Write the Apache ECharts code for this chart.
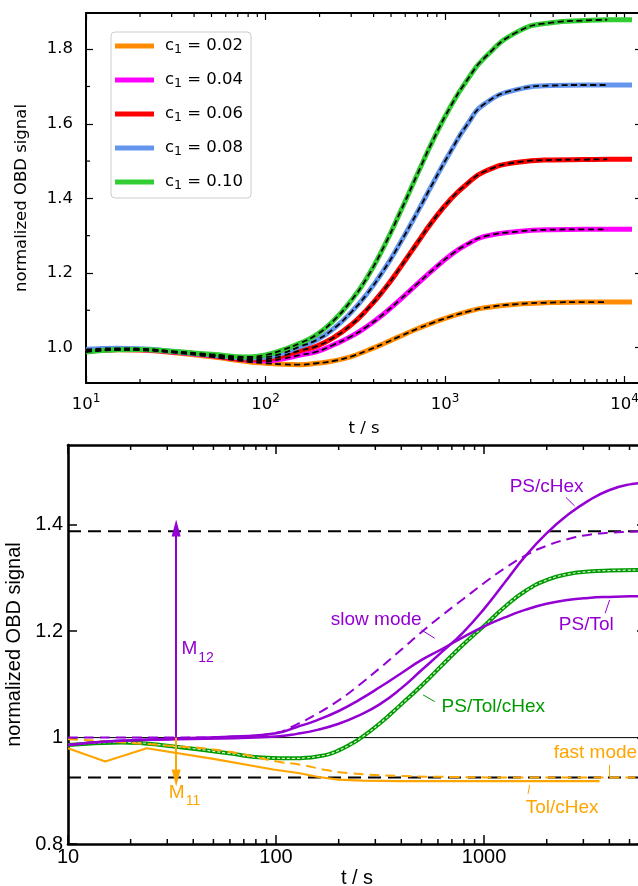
<!DOCTYPE html>
<html>
<head>
<meta charset="utf-8">
<script src="https://cdn.jsdelivr.net/npm/echarts@6/dist/echarts.min.js"></script>
<style>
  html, body { margin: 0; padding: 0; background: #ffffff; }
  #chart { width: 638px; height: 886px; }
</style>
</head>
<body>
<div id="chart"></div>
<script>
// ---------- upper panel: OBD signal for several concentrations c1 ----------
const upperTime = [10, 15, 20, 30, 50, 80, 100, 125, 156, 193, 238, 300, 366, 460, 560, 706, 859, 1081, 1318, 1660, 2543, 3897, 5980, 8000, 11000];
const concLabels = ['0.02', '0.04', '0.06', '0.08', '0.10'];
const sigC002 = [0.990, 0.994, 0.993, 0.987, 0.975, 0.962, 0.958, 0.955, 0.954, 0.958, 0.964, 0.976, 0.9915, 1.0115, 1.030, 1.051, 1.067, 1.0835, 1.0955, 1.1065, 1.1167, 1.1205, 1.122, 1.122, 1.122];
const sigC004 = [0.990, 0.995, 0.994, 0.988, 0.978, 0.966, 0.964, 0.970, 0.980, 0.989, 1.007, 1.030, 1.056, 1.092, 1.128, 1.172, 1.209, 1.249, 1.276, 1.298, 1.311, 1.316, 1.317, 1.317, 1.317];
const sigC006 = [0.990, 0.995, 0.995, 0.989, 0.979, 0.968, 0.969, 0.978, 0.992, 1.004, 1.026, 1.061, 1.101, 1.157, 1.213, 1.283, 1.341, 1.399, 1.438, 1.472, 1.497, 1.503, 1.504, 1.505, 1.505];
const sigC008 = [0.995, 0.998, 0.997, 0.990, 0.980, 0.972, 0.974, 0.985, 1.003, 1.0205, 1.0496, 1.0946, 1.1428, 1.2108, 1.2788, 1.3658, 1.4423, 1.5283, 1.5954, 1.6534, 1.6923, 1.7025, 1.704, 1.704, 1.704];
const sigC010 = [0.988, 0.994, 0.995, 0.990, 0.982, 0.975, 0.980, 0.994, 1.012, 1.035, 1.071, 1.126, 1.186, 1.274, 1.361, 1.468, 1.557, 1.649, 1.715, 1.777, 1.847, 1.871, 1.877, 1.879, 1.879];
const fitLastTime = 8000;            // model curves stop here
const upperYTicks = [1.0, 1.2, 1.4, 1.6, 1.8];
const upperYMinor = [1.1, 1.3, 1.5, 1.7];

// ---------- lower panel: mixtures and their two modes ----------
const psTime = [10, 16, 33, 63, 100, 126, 158, 200, 251, 316, 398, 501, 631, 794, 1000, 1259, 1585, 1995, 2512, 3162, 3981, 5012, 6000];
const psCHexV = [0.986, 0.993, 0.997, 0.999, 1.002, 1.007, 1.0145, 1.026, 1.042, 1.063, 1.092, 1.127, 1.162, 1.198, 1.242, 1.292, 1.342, 1.384, 1.418, 1.445, 1.465, 1.476, 1.479];
const psTolV = [0.986, 0.993, 0.998, 1.002, 1.008, 1.020, 1.033, 1.050, 1.071, 1.095, 1.1205, 1.146, 1.167, 1.189, 1.209, 1.226, 1.2405, 1.2515, 1.2585, 1.2625, 1.2645, 1.2655, 1.266];
const slowT = [10, 33, 63, 100, 126, 158, 200, 251, 316, 398, 501, 631, 794, 1000, 1259, 1585, 1995, 2512, 3162, 3981, 5012, 6000];
const slowV = [1.000, 1.000, 1.002, 1.009, 1.025, 1.045, 1.070, 1.099, 1.131, 1.1645, 1.1985, 1.2305, 1.2605, 1.2905, 1.3185, 1.3425, 1.3605, 1.373, 1.381, 1.385, 1.387, 1.388];
const mixT = [10, 18, 33, 58, 90, 121, 140, 160, 180, 200, 225, 257, 316, 398, 501, 631, 794, 1000, 1259, 1585, 1995, 2512, 3162, 3981, 6000];
const mixV = [0.986, 0.991, 0.983, 0.971, 0.962, 0.961, 0.962, 0.965, 0.969, 0.976, 0.986, 1.000, 1.027, 1.062, 1.098, 1.137, 1.175, 1.210, 1.246, 1.276, 1.296, 1.307, 1.312, 1.314, 1.315];
const tolCHexT = [10, 15.1, 23.9, 50, 97, 130, 160, 200, 260, 394, 1000, 3590];
const tolCHexV = [0.980, 0.955, 0.980, 0.960, 0.940, 0.933, 0.926, 0.921, 0.919, 0.918, 0.918, 0.918];
const fastT = [10, 33, 58, 101, 131, 175, 227, 394, 700, 1500, 6000];
const fastV = [0.997, 0.984, 0.974, 0.955, 0.949, 0.939, 0.933, 0.928, 0.926, 0.925, 0.925];
const baseLevel = 1.0;
const slowLimit = 1.388;
const fastLimit = 0.925;
const arrowTime = 33.1;
const lowerYTicks = [0.8, 1.0, 1.2, 1.4];

const pairs = (ts, vs) => ts.map((t, i) => [t, vs[i]]);

const FU = 'DejaVu Sans';
const FL = 'Liberation Sans';
const PURPLE = '#9400d3';
const ORANGE = '#ffa500';
const GREEN = '#009a00';
const SMOOTH = 0.5;

// minor tick marks on log axes (2..9 of each decade) and listed y values
function minorTickData(xMax, yMinor, yRef, len) {
  const out = [];
  for (let d = 10; d < xMax; d *= 10) {
    for (let m = 2; m <= 9; m++) {
      if (d * m < xMax) out.push([d * m, yRef, 0, len]);
    }
  }
  yMinor.forEach(v => out.push([10, v, 1, len]));
  return out;
}
function drawTicks(lw) {
  return function (params, api) {
    const cs = params.coordSys;
    const p = api.coord([api.value(0), api.value(1)]);
    const len = api.value(3);
    const st = { stroke: '#000', lineWidth: lw };
    if (api.value(2) === 0) {
      const yb = cs.y + cs.height;
      return { type: 'group', children: [
        { type: 'line', shape: { x1: p[0], y1: yb, x2: p[0], y2: yb - len }, style: st },
        { type: 'line', shape: { x1: p[0], y1: cs.y, x2: p[0], y2: cs.y + len }, style: st }
      ] };
    }
    const xr = cs.x + cs.width;
    return { type: 'group', children: [
      { type: 'line', shape: { x1: cs.x, y1: p[1], x2: cs.x + len, y2: p[1] }, style: st },
      { type: 'line', shape: { x1: xr, y1: p[1], x2: xr - len, y2: p[1] }, style: st }
    ] };
  };
}

const isDecade = v => Math.abs(Math.log10(v) - Math.round(Math.log10(v))) < 1e-6;

const upperColors = ['#ff8c00', '#ff00ff', '#ff0000', '#6495ed', '#32cd32'];
const upperSignals = [sigC002, sigC004, sigC006, sigC008, sigC010];
const upperNames = concLabels.map(c => 'c1 = ' + c);

const upperSeries = [];
upperSignals.forEach((sig, i) => {
  upperSeries.push({
    name: upperNames[i], type: 'line', xAxisIndex: 0, yAxisIndex: 0,
    data: pairs(upperTime, sig), showSymbol: false, smooth: SMOOTH,
    lineStyle: { color: upperColors[i], width: 5 }, itemStyle: { color: upperColors[i] },
    z: 2
  });
});
upperSignals.forEach((sig, i) => {
  upperSeries.push({
    name: 'fit ' + concLabels[i], type: 'line', xAxisIndex: 0, yAxisIndex: 0,
    data: pairs(upperTime, sig).filter(p => p[0] <= fitLastTime), showSymbol: false, smooth: SMOOTH,
    lineStyle: { color: '#000', width: 1.8, type: [6, 3.5] }, z: 3
  });
});
upperSeries.push({
  type: 'custom', xAxisIndex: 0, yAxisIndex: 0, silent: true, z: 5,
  data: minorTickData(12500, upperYMinor, 1.2, 4), renderItem: drawTicks(1.2)
});

const lineSer = (name, ts, vs, color, width, type, z, smooth) => ({
  name, type: 'line', xAxisIndex: 2, yAxisIndex: 2, data: pairs(ts, vs),
  showSymbol: false, smooth: smooth, lineStyle: { color, width, type }, z
});

const labelPoint = (coord, text, color) => ({
  coord, symbol: 'circle', symbolSize: 1, itemStyle: { color: 'rgba(0,0,0,0)' },
  label: { show: true, position: 'inside', formatter: text, color, fontFamily: FL, fontSize: 19,
    rich: { s: { fontFamily: FL, fontSize: 14, color, padding: [18, 0, 0, 1] } } }
});
const leader = (a, b, color) => [{ coord: a, lineStyle: { color, width: 1, type: 'solid' } }, { coord: b }];

const lowerSeries = [
  // reference levels
  lineSer('base', [10, 6000], [baseLevel, baseLevel], '#000', 1, 'solid', 1, false),
  lineSer('slow limit', [10, 6000], [slowLimit, slowLimit], '#000', 2, [13, 7], 1, false),
  lineSer('fast limit', [10, 6000], [fastLimit, fastLimit], '#000', 2, [13, 7], 1, false),
  // measured and model curves
  lineSer('PS/Tol/cHex', mixT, mixV, GREEN, 4, 'solid', 2, SMOOTH),
  lineSer('PS/Tol/cHex fit', mixT, mixV, '#d8f5d0', 1.2, [3, 2], 3, SMOOTH),
  lineSer('Tol/cHex', tolCHexT, tolCHexV, ORANGE, 2.2, 'solid', 3, false),
  lineSer('fast mode', fastT, fastV, ORANGE, 2, [10, 6], 3, SMOOTH),
  lineSer('slow mode', slowT, slowV, PURPLE, 2, [10, 6], 4, SMOOTH),
  lineSer('PS/Tol', psTime, psTolV, PURPLE, 2.5, 'solid', 4, SMOOTH),
  lineSer('PS/cHex', psTime, psCHexV, PURPLE, 2.5, 'solid', 4, SMOOTH),
  {
    name: 'annotations', type: 'line', xAxisIndex: 2, yAxisIndex: 2, data: [], z: 6,
    markLine: {
      silent: true, animation: false, symbol: ['none', 'none'], label: { show: false },
      data: [
        [{ coord: [arrowTime, baseLevel], lineStyle: { color: PURPLE, width: 2, type: 'solid' }, symbol: 'none' },
         { coord: [arrowTime, 1.394], symbol: 'triangle', symbolSize: [9, 17] }],
        [{ coord: [arrowTime, baseLevel], lineStyle: { color: ORANGE, width: 2, type: 'solid' }, symbol: 'none' },
         { coord: [arrowTime, 0.924], symbol: 'triangle', symbolSize: [9, 17] }],
        leader([2472, 1.4516], [2723, 1.4355], PURPLE),
        leader([3818, 1.2338], [4012, 1.2588], PURPLE),
        leader([499, 1.2024], [579, 1.1868], PURPLE),
        leader([579, 1.0677], [509, 1.0803], GREEN),
        leader([4012, 0.9487], [4012, 0.9267], ORANGE),
        leader([1656, 0.9111], [1626, 0.8942], ORANGE)
      ]
    },
    markPoint: {
      silent: true, animation: false,
      data: [
        labelPoint([1998, 1.4718], 'PS/cHex', PURPLE),
        labelPoint([3097, 1.2118], 'PS/Tol', PURPLE),
        labelPoint([303, 1.2212], 'slow mode', PURPLE),
        labelPoint([1107, 1.0583], 'PS/Tol/cHex', GREEN),
        labelPoint([3427, 0.9707], 'fast mode', ORANGE),
        labelPoint([2371, 0.8673], 'Tol/cHex', ORANGE),
        labelPoint([42.0, 1.167], 'M{s|12}', PURPLE),
        labelPoint([36.3, 0.897], 'M{s|11}', ORANGE)
      ]
    }
  },
  {
    type: 'custom', xAxisIndex: 2, yAxisIndex: 2, silent: true, z: 7,
    data: minorTickData(6000, [], 1.2, 5), renderItem: drawTicks(1.5)
  }
];

const frameU = { show: true, lineStyle: { color: '#000', width: 2 } };
const frameL = { show: true, lineStyle: { color: '#000', width: 2.6 } };

const option = {
  animation: false,
  backgroundColor: '#ffffff',
  grid: [
    { left: 86, top: 13, width: 556, height: 370, outerBoundsMode: 'none' },
    { left: 68, top: 445, width: 578, height: 399, outerBoundsMode: 'none' }
  ],
  legend: {
    data: upperNames, orient: 'vertical', left: 111, top: 32,
    padding: [4, 8, 6, 4], itemWidth: 39, itemHeight: 5, itemGap: 14, icon: 'rect',
    backgroundColor: 'rgba(255,255,255,0.85)', borderColor: '#cccccc', borderWidth: 1, borderRadius: 4,
    formatter: n => n.replace('c1', 'c{sub|1}'),
    textStyle: {
      fontFamily: FU, fontSize: 16.5, color: '#000', lineHeight: 20, padding: [0, 0, 0, 6],
      rich: { sub: { fontFamily: FU, fontSize: 12.5, lineHeight: 13, verticalAlign: 'bottom', color: '#000' } }
    }
  },
  xAxis: [
    { type: 'log', gridIndex: 0, min: 10, max: 12500, position: 'bottom',
      axisLine: frameU, axisTick: { inside: true, length: 7, lineStyle: { width: 1.2 } }, splitLine: { show: false },
      axisLabel: { margin: 10, color: '#000', fontFamily: FU, fontSize: 16.5, lineHeight: 24,
        formatter: v => isDecade(v) ? '10{sup|' + Math.round(Math.log10(v)) + '}' : '',
        rich: { sup: { fontFamily: FU, fontSize: 12, lineHeight: 10, verticalAlign: 'top', color: '#000' } } },
      name: 't / s', nameLocation: 'middle', nameGap: 37,
      nameTextStyle: { fontFamily: FU, fontSize: 16.5, color: '#000' } },
    { type: 'log', gridIndex: 0, min: 10, max: 12500, position: 'top',
      axisLine: frameU, axisTick: { inside: true, length: 7, lineStyle: { width: 1.2 } },
      axisLabel: { show: false }, splitLine: { show: false } },
    { type: 'log', gridIndex: 1, min: 10, max: 6000, position: 'bottom',
      axisLine: frameL, axisTick: { inside: true, length: 9, lineStyle: { width: 1.5 } }, splitLine: { show: false },
      axisLabel: { margin: 3, color: '#000', fontFamily: FL, fontSize: 20,
        formatter: v => isDecade(v) ? String(Math.round(v)) : '' },
      name: 't / s', nameLocation: 'middle', nameGap: 24,
      nameTextStyle: { fontFamily: FL, fontSize: 20, color: '#000' } },
    { type: 'log', gridIndex: 1, min: 10, max: 6000, position: 'top',
      axisLine: frameL, axisTick: { inside: true, length: 9, lineStyle: { width: 1.5 } },
      axisLabel: { show: false }, splitLine: { show: false } }
  ],
  yAxis: [
    { type: 'value', gridIndex: 0, min: 0.905, max: 1.897, position: 'left',
      axisLine: frameU, splitLine: { show: false },
      axisTick: { inside: true, length: 7, customValues: upperYTicks, lineStyle: { width: 1.2 } },
      axisLabel: { customValues: upperYTicks, margin: 13, color: '#000', fontFamily: FU, fontSize: 16.5,
        formatter: v => v.toFixed(1) },
      name: 'normalized OBD signal', nameLocation: 'middle', nameGap: 56,
      nameTextStyle: { fontFamily: FU, fontSize: 16.5, color: '#000' } },
    { type: 'value', gridIndex: 0, min: 0.905, max: 1.897, position: 'right',
      axisLine: frameU, splitLine: { show: false },
      axisTick: { inside: true, length: 7, customValues: upperYTicks, lineStyle: { width: 1.2 } },
      axisLabel: { show: false } },
    { type: 'value', gridIndex: 1, min: 0.8, max: 1.55, position: 'left',
      axisLine: frameL, splitLine: { show: false },
      axisTick: { inside: true, length: 9, customValues: lowerYTicks, lineStyle: { width: 1.5 } },
      axisLabel: { customValues: lowerYTicks, margin: 5, color: '#000', fontFamily: FL, fontSize: 20,
        formatter: v => Math.abs(v - 1) < 1e-9 ? '1' : v.toFixed(1) },
      name: 'normalized OBD signal', nameLocation: 'middle', nameGap: 29,
      nameTextStyle: { fontFamily: FL, fontSize: 20, color: '#000' } },
    { type: 'value', gridIndex: 1, min: 0.8, max: 1.55, position: 'right',
      axisLine: frameL, splitLine: { show: false },
      axisTick: { inside: true, length: 9, customValues: lowerYTicks, lineStyle: { width: 1.5 } },
      axisLabel: { show: false } }
  ],
  series: upperSeries.concat(lowerSeries)
};

const chart = echarts.init(document.getElementById('chart'), null, { renderer: 'canvas' });
chart.setOption(option);
</script>
</body>
</html>
